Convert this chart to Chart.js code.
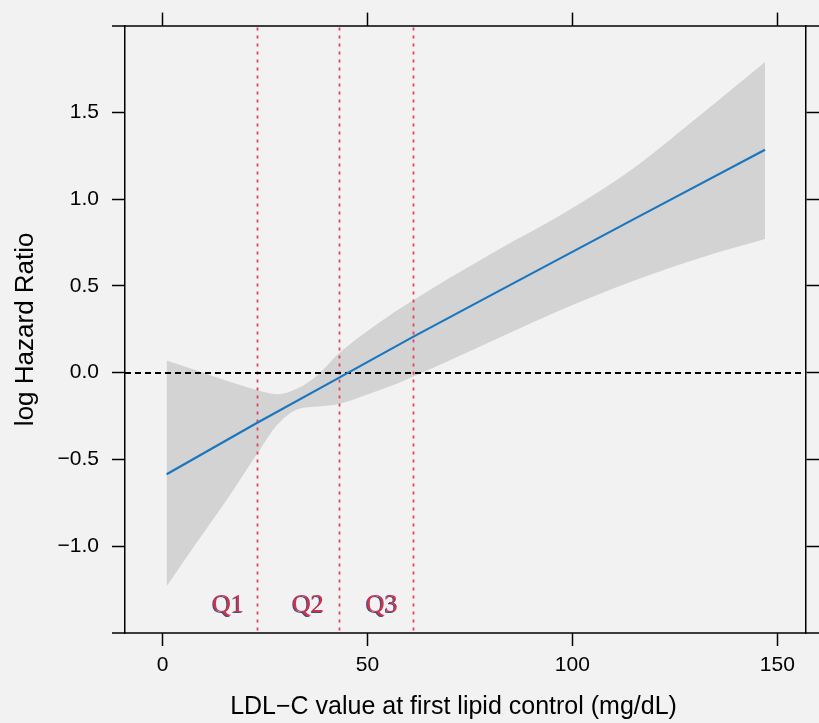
<!DOCTYPE html>
<html>
<head>
<meta charset="utf-8">
<script src="https://cdn.jsdelivr.net/npm/chart.js@4.4.1/dist/chart.umd.min.js"></script>
<style>
  html, body { margin: 0; padding: 0; background: #f2f2f2; }
  #wrap { width: 819px; height: 723px; }
</style>
</head>
<body>
<div id="wrap"><canvas id="rcsChart" width="819" height="723"></canvas></div>
<script>
// LDL-C grid for the confidence band (mg/dL)
const LDL_X = [1, 8, 16, 23, 28, 33, 38, 43, 50, 57, 61, 70, 82, 98, 115, 131, 147];
const CI_LOWER = [-1.23, -0.99, -0.72, -0.47, -0.30, -0.21, -0.195, -0.18, -0.125, -0.065, -0.025, 0.07, 0.20, 0.37, 0.53, 0.66, 0.77];
const CI_UPPER = [0.07, 0.015, -0.05, -0.10, -0.124, -0.09, -0.01, 0.11, 0.24, 0.355, 0.415, 0.545, 0.71, 0.92, 1.18, 1.48, 1.79];

// fitted log HR
const FIT_X = [1, 23, 43, 61, 82, 115, 147];
const FIT_Y = [-0.585, -0.29, -0.03, 0.205, 0.47, 0.885, 1.285];

// quartile cut points and labels
const QUARTILE_CUTS = [23, 43, 61];
const QUARTILE_LABELS = ["Q1", "Q2", "Q3"];

const X_TICKS = [0, 50, 100, 150];
const Y_TICKS = [-1.0, -0.5, 0.0, 0.5, 1.0, 1.5];

const X_TITLE = "LDL\u2212C value at first lipid control (mg/dL)";
const Y_TITLE = "log Hazard Ratio";

const X_MIN = -9.16, X_MAX = 157.0;
const Y_MIN = -1.5, Y_MAX = 2.0;

const SANS = '"Liberation Sans", Arial, sans-serif';
const SERIF = '"Liberation Serif", "DejaVu Serif", serif';
const TICK_LEN = 13;

const toPoints = (xs, ys) => xs.map((x, i) => ({ x: x, y: ys[i] }));

// reference lines: y = 0 and the quartile cuts, drawn above the band
const refLines = {
  id: "refLines",
  afterDatasetDraw(chart, args) {
    if (args.index !== 1) return;
    const { ctx, chartArea: a, scales: { x, y } } = chart;
    ctx.save();
    ctx.beginPath();
    ctx.rect(a.left, a.top, a.right - a.left, a.bottom - a.top);
    ctx.clip();

    ctx.strokeStyle = "#e2425f";
    ctx.lineWidth = 1.8;
    ctx.setLineDash([3, 5]);
    QUARTILE_CUTS.forEach((v) => {
      const px = Math.round(x.getPixelForValue(v)) + 0.5;
      ctx.beginPath();
      ctx.moveTo(px, a.top + 2);
      ctx.lineTo(px, a.bottom);
      ctx.stroke();
    });

    const py = Math.round(y.getPixelForValue(0));
    ctx.strokeStyle = "#000";
    ctx.lineWidth = 2;
    ctx.setLineDash([6, 4]);
    ctx.beginPath();
    ctx.moveTo(a.left, py);
    ctx.lineTo(a.right, py);
    ctx.stroke();
    ctx.restore();
  },
};

// quartile labels near the bottom of the panel, plus the x title
const textLayer = {
  id: "textLayer",
  afterDatasetsDraw(chart) {
    const { ctx, chartArea: a, scales: { x, y } } = chart;
    const labelX = [16, 35.5, 53.5];
    const py = y.getPixelForValue(-1.34);
    ctx.save();
    ctx.font = "26px " + SERIF;
    ctx.textAlign = "center";
    ctx.textBaseline = "middle";
    QUARTILE_LABELS.forEach((t, i) => {
      const px = x.getPixelForValue(labelX[i]);
      ctx.fillStyle = "#4a4a78";
      ctx.fillText(t, px - 1, py + 0.5);
      ctx.fillStyle = "#cc3450";
      ctx.fillText(t, px, py);
    });

    ctx.font = "25px " + SANS;
    ctx.fillStyle = "#000";
    ctx.fillText(X_TITLE, (a.left + a.right) / 2 - 12, chart.height - 16);
    ctx.restore();
  },
};

// top/bottom frame lines run out past the corners by a tick length
const frame = {
  id: "frame",
  afterDraw(chart) {
    const { ctx, chartArea: a } = chart;
    ctx.save();
    ctx.strokeStyle = "#000";
    ctx.lineWidth = 1.5;
    [a.top, a.bottom].forEach((yy) => {
      const py = Math.round(yy);
      ctx.beginPath();
      ctx.moveTo(a.left - TICK_LEN, py);
      ctx.lineTo(a.right + TICK_LEN, py);
      ctx.stroke();
    });
    ctx.restore();
  },
};

const tickGrid = {
  drawOnChartArea: false,
  drawTicks: true,
  tickLength: TICK_LEN,
  tickColor: "#000",
  tickWidth: 1.5,
};

new Chart(document.getElementById("rcsChart"), {
  type: "line",
  data: {
    datasets: [
      {
        label: "log HR",
        data: toPoints(FIT_X, FIT_Y),
        borderColor: "#1a76bf",
        borderWidth: 2.2,
        pointRadius: 0,
        fill: false,
      },
      {
        label: "lower",
        data: toPoints(LDL_X, CI_LOWER),
        borderColor: "rgba(0,0,0,0)",
        borderWidth: 0,
        pointRadius: 0,
        cubicInterpolationMode: "monotone",
        fill: false,
      },
      {
        label: "upper",
        data: toPoints(LDL_X, CI_UPPER),
        borderColor: "rgba(0,0,0,0)",
        borderWidth: 0,
        pointRadius: 0,
        cubicInterpolationMode: "monotone",
        backgroundColor: "#d3d3d3",
        fill: "-1",
      },
    ],
  },
  options: {
    responsive: false,
    animation: false,
    layout: { padding: 0 },
    plugins: {
      legend: { display: false },
      tooltip: { enabled: false },
      filler: { propagate: false },
    },
    scales: {
      x: {
        type: "linear",
        position: "bottom",
        min: X_MIN,
        max: X_MAX,
        afterBuildTicks: (s) => { s.ticks = X_TICKS.map((v) => ({ value: v })); },
        ticks: {
          padding: 7,
          color: "#000",
          font: { family: SANS, size: 21 },
          maxRotation: 0,
        },
        grid: tickGrid,
        border: { display: false },
        afterFit: (s) => { s.height = 90; },
      },
      x2: {
        type: "linear",
        position: "top",
        min: X_MIN,
        max: X_MAX,
        afterBuildTicks: (s) => { s.ticks = X_TICKS.map((v) => ({ value: v })); },
        ticks: { display: false },
        grid: tickGrid,
        border: { display: false },
        afterFit: (s) => { s.height = 21; },
      },
      y: {
        type: "linear",
        position: "left",
        min: Y_MIN,
        max: Y_MAX,
        afterBuildTicks: (s) => { s.ticks = Y_TICKS.map((v) => ({ value: v })); },
        ticks: {
          padding: 13,
          color: "#000",
          font: { family: SANS, size: 21 },
          callback: (v) => (v < 0 ? "\u2212" : "") + Math.abs(v).toFixed(1),
        },
        grid: tickGrid,
        border: { display: true, color: "#000", width: 1.5 },
        title: {
          display: true,
          text: Y_TITLE,
          color: "#000",
          font: { family: SANS, size: 26 },
          padding: { top: 10, bottom: 0 },
        },
        afterFit: (s) => { s.width = 125; },
      },
      y2: {
        type: "linear",
        position: "right",
        min: Y_MIN,
        max: Y_MAX,
        afterBuildTicks: (s) => { s.ticks = Y_TICKS.map((v) => ({ value: v })); },
        ticks: { display: false },
        grid: tickGrid,
        border: { display: true, color: "#000", width: 1.5 },
        afterFit: (s) => { s.width = 13; },
      },
    },
  },
  plugins: [refLines, textLayer, frame],
});
</script>
</body>
</html>
